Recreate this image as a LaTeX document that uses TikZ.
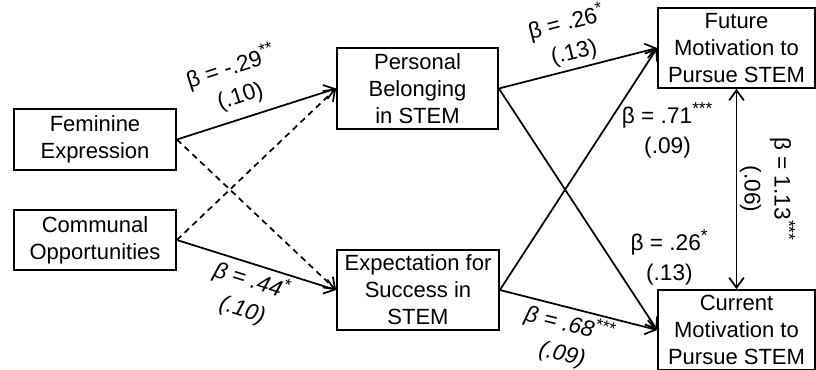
\documentclass[tikz,border=0pt]{standalone}
\usepackage{fontspec}
\setmainfont{Liberation Sans}
\usetikzlibrary{arrows.meta}
\tikzset{
  box/.style={draw, line width=1.3pt, align=center, inner sep=0pt,
    font=\fontsize{16.5}{20.25}\selectfont},
  lbl/.style={align=center, inner sep=2pt, font=\fontsize{17}{22.5}\selectfont},
  lblit/.style={lbl, font=\fontsize{17}{22.5}\selectfont\itshape},
  link/.style={line width=1.3pt, -{Straight Barb[length=7.5pt,width=11pt]}},
  nolink/.style={link, dash pattern=on 4.5pt off 3.5pt},
}
\newcommand{\stars}[1]{\textsuperscript{\fontsize{13}{13}\selectfont#1}}
\begin{document}
\begin{tikzpicture}[x=0.75pt, y=-0.75pt]
\useasboundingbox (0,0) rectangle (816,370);

\node[box, minimum width=121.5pt, minimum height=45.75pt] (fem) at (95,139.5) {Feminine\\Expression};
\node[box, minimum width=121.5pt, minimum height=45pt] (com) at (95,240) {Communal\\Opportunities};
\node[box, minimum width=120.75pt, minimum height=60.75pt] (bel) at (417.5,88.5) {Personal\\Belonging\\in STEM};
\node[box, minimum width=121.5pt, minimum height=60pt] (exp) at (418,290) {Expectation for\\Success in\\STEM};
\node[box, minimum width=117.75pt, minimum height=60pt] (fut) at (736.5,48) {Future\\Motivation to\\Pursue STEM};
\node[box, minimum width=117.75pt, minimum height=60pt] (cur) at (736.5,330) {Current\\Motivation to\\Pursue STEM};

\draw[link] (fem.east) -- node[lbl, sloped, above=5pt, pos=0.44] (b1) {β = -.29\stars{**}\\(.10)} (bel.west);
\draw[nolink] (fem.east) -- (exp.west);
\draw[nolink] (com.east) -- (bel.west);
\draw[link] (com.east) -- node[lblit, sloped, below=0pt, pos=0.5] (b2) {β = .44\stars{*}\\(.10)} (exp.west);

\draw[link] (bel.east) -- node[lbl, sloped, above=1pt, pos=0.5] (b3) {β = .26\stars{*}\\(.13)} (fut.west);
\draw[link] (bel.east) -- node[lbl, right, pos=0.70, xshift=13pt] (b4) {β = .26\stars{*}\\(.13)} (cur.west);
\draw[link] (exp.east) -- node[lbl, right, pos=0.66, xshift=11pt] (b5) {β = .71\stars{***}\\(.09)} (fut.west);
\draw[link] (exp.east) -- node[lblit, sloped, below=0pt, pos=0.47] (b6) {β = .68\stars{***}\\(.09)} (cur.west);

\draw[link, {Straight Barb[length=7.5pt,width=11pt]}-{Straight Barb[length=7.5pt,width=11pt]}]
  (fut.south) -- node[lbl, midway, rotate=-90, anchor=south] (b7) {β = 1.13\stars{***}\\(.06)} (cur.north);
\end{tikzpicture}
\end{document}
